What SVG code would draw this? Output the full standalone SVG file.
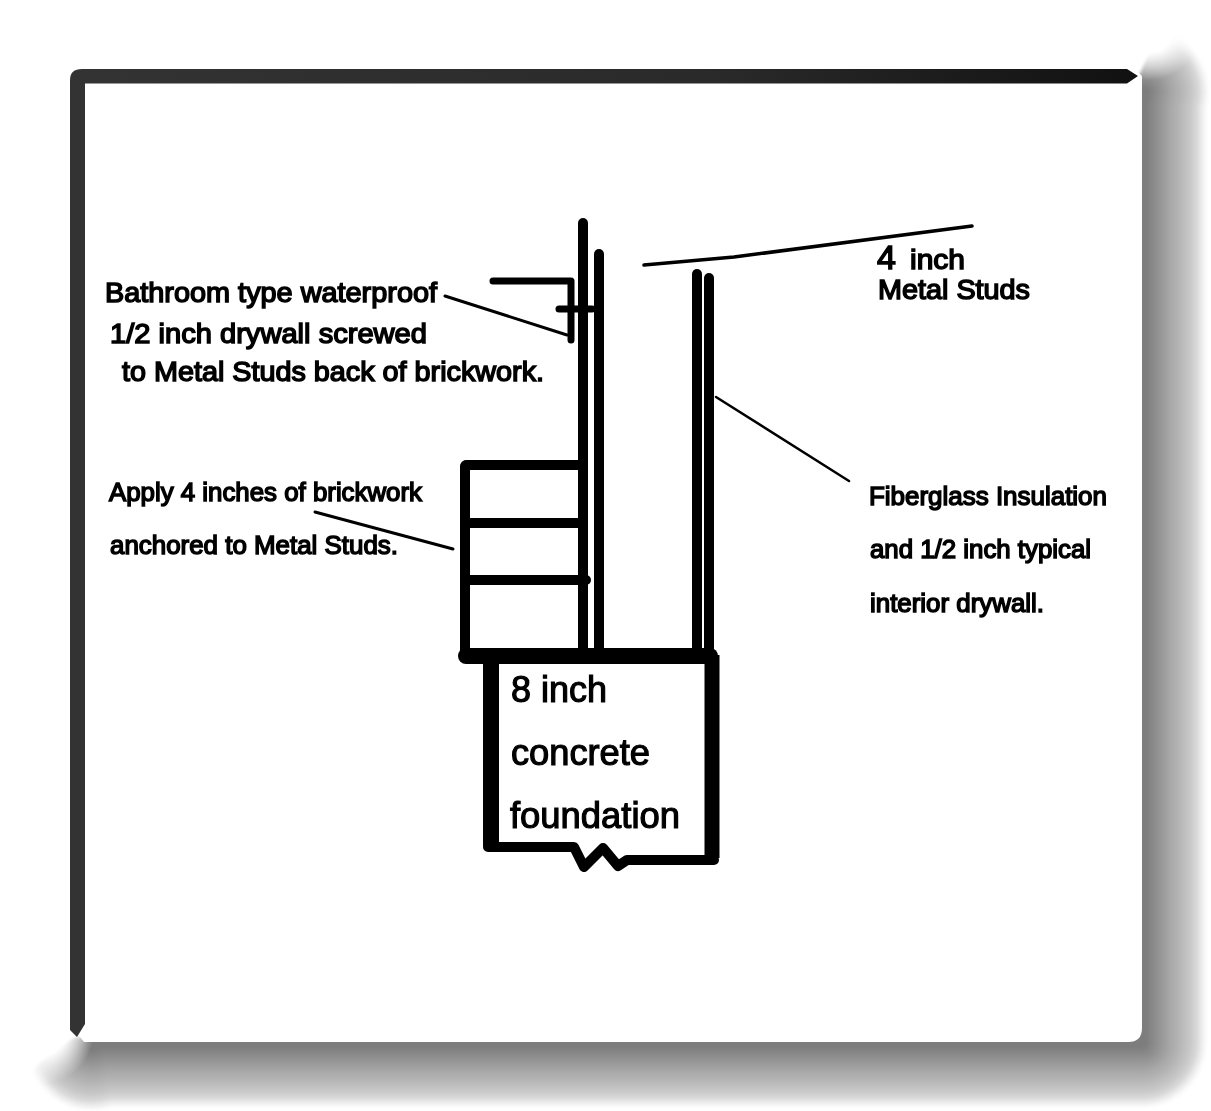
<svg xmlns="http://www.w3.org/2000/svg" width="1211" height="1111" viewBox="0 0 1211 1111">
<defs>
<filter id="blur" filterUnits="userSpaceOnUse" x="0" y="0" width="1211" height="1111"><feGaussianBlur stdDeviation="1.500"/></filter>
<filter id="soft" x="-5%" y="-5%" width="110%" height="110%"><feGaussianBlur stdDeviation="0.6"/></filter>
<clipPath id="sc"><path d="M1139 76L1150 52Q1160 30 1182 14H1211V1111H0V1095L25 1078Q45 1055 74 1038L1139 1000Z"/></clipPath>
<path id="sp" d="M92 1046L104 1043H1142V104L1144 92" fill="none" stroke-linecap="round" stroke-linejoin="round"/>
<linearGradient id="fv" x1="0" x2="1" y1="0" y2="0"><stop offset="0" stop-color="#333"/><stop offset=".6" stop-color="#2a2a2a"/><stop offset="1" stop-color="#111"/></linearGradient>
<radialGradient id="fade"><stop offset=".45" stop-color="#fff"/><stop offset="1" stop-color="#fff" stop-opacity="0"/></radialGradient>
</defs>
<style>
.ln{fill:none;stroke:#000;stroke-linecap:round;stroke-linejoin:round}
.t{font-family:"Liberation Sans",Arial,sans-serif;fill:#000;stroke:#000;stroke-width:1.5}
.a{font-size:28px}
.b{font-size:26px}
.c{font-size:37px;stroke-width:1.2}
</style>
<rect width="1211" height="1111" fill="#fff"/>
<g id="frame">
<g filter="url(#blur)"><g clip-path="url(#sc)">
<use href="#sp" stroke="#fdfdfd" stroke-width="132"/>
<use href="#sp" stroke="#f3f3f3" stroke-width="126"/>
<use href="#sp" stroke="#e8e8e8" stroke-width="120"/>
<use href="#sp" stroke="#dcdcdc" stroke-width="114"/>
<use href="#sp" stroke="#d2d2d2" stroke-width="108"/>
<use href="#sp" stroke="#c8c8c8" stroke-width="100"/>
<use href="#sp" stroke="#c1c1c1" stroke-width="92"/>
<use href="#sp" stroke="#bababa" stroke-width="84"/>
<use href="#sp" stroke="#b3b3b3" stroke-width="76"/>
<use href="#sp" stroke="#adadad" stroke-width="68"/>
<use href="#sp" stroke="#a7a7a7" stroke-width="60"/>
<use href="#sp" stroke="#a0a0a0" stroke-width="52"/>
<use href="#sp" stroke="#999999" stroke-width="44"/>
<use href="#sp" stroke="#929292" stroke-width="36"/>
<use href="#sp" stroke="#8b8b8b" stroke-width="28"/>
<use href="#sp" stroke="#848484" stroke-width="20"/>
<use href="#sp" stroke="#7d7d7d" stroke-width="12"/>
</g></g>
<circle cx="42" cy="1032" r="52" fill="url(#fade)"/>
<circle cx="1150" cy="30" r="50" fill="url(#fade)"/>
<path d="M70 1024L84 1042H1128Q1142 1042 1142 1028V76L1134 69H70Z" fill="#fff"/>
<path d="M70 1026V80Q70 69 82 69H1127L1138 76L1127 83.500H85V1024L77 1037L70 1030Z" fill="url(#fv)"/>
</g>
<g id="wall" filter="url(#soft)">
<path class="ln" stroke-width="10" d="M583 223V650"/>
<path class="ln" stroke-width="10" d="M599 254V650"/>
<path class="ln" stroke-width="10" d="M697 274V650"/>
<path class="ln" stroke-width="10" d="M709 278V650"/>
<path class="ln" stroke-width="7" d="M493 281H571V340"/>
<path class="ln" stroke-width="7" d="M559 309H592"/>
</g>
<g id="brickwork" filter="url(#soft)">
<path class="ln" stroke-width="10" d="M465 466V652"/>
<path class="ln" stroke-width="10" d="M466 465H580"/>
<path class="ln" stroke-width="10" d="M468 523H582"/>
<path class="ln" stroke-width="10" d="M468 580H586"/>
</g>
<g id="foundation" filter="url(#soft)">
<path class="ln" stroke-width="16" d="M466 656H710"/>
<path d="M491 655V846" fill="none" stroke="#000" stroke-width="16"/>
<path d="M712 655V858" fill="none" stroke="#000" stroke-width="15"/>
<path class="ln" stroke-width="10" d="M488 847H574L584 867L603 848L618 866L627 860H714"/>
</g>
<g id="connectors" filter="url(#soft)">
<path class="ln" stroke-width="3" d="M445 296L567 335"/>
<path class="ln" stroke-width="3.500" d="M644 265L734 257L972 226"/>
<path class="ln" stroke-width="2.500" d="M716 397L849 481"/>
<path class="ln" stroke-width="3" d="M315 512L453 549"/>
</g>
<g id="label-drywall" filter="url(#soft)">
<text class="t a" x="105" y="302" textLength="332" lengthAdjust="spacingAndGlyphs">Bathroom type waterproof</text>
<text class="t a" x="110" y="343" textLength="317" lengthAdjust="spacingAndGlyphs">1/2 inch drywall screwed</text>
<text class="t a" x="122" y="381" textLength="422" lengthAdjust="spacingAndGlyphs">to Metal Studs back of brickwork.</text>
</g>
<g id="label-brick" filter="url(#soft)">
<text class="t b" x="109" y="501" textLength="313" lengthAdjust="spacingAndGlyphs">Apply 4 inches of brickwork</text>
<text class="t b" x="110" y="554" textLength="288" lengthAdjust="spacingAndGlyphs">anchored to Metal Studs.</text>
</g>
<g id="label-insulation" filter="url(#soft)">
<text class="t b" x="869" y="505" textLength="238" lengthAdjust="spacingAndGlyphs">Fiberglass Insulation</text>
<text class="t b" x="870" y="558" textLength="221" lengthAdjust="spacingAndGlyphs">and 1/2 inch typical</text>
<text class="t b" x="870" y="612" textLength="174" lengthAdjust="spacingAndGlyphs">interior drywall.</text>
</g>
<g id="label-studs" filter="url(#soft)">
<text class="t a" y="269"><tspan x="877" font-size="34">4</tspan> <tspan x="910" textLength="55" lengthAdjust="spacingAndGlyphs">inch</tspan></text>
<text class="t a" x="878" y="299" textLength="152" lengthAdjust="spacingAndGlyphs">Metal Studs</text>
</g>
<g id="label-foundation" filter="url(#soft)">
<text class="t c" x="511" y="702" textLength="96" lengthAdjust="spacingAndGlyphs">8 inch</text>
<text class="t c" x="511" y="765" textLength="139" lengthAdjust="spacingAndGlyphs">concrete</text>
<text class="t c" x="510" y="828" textLength="170" lengthAdjust="spacingAndGlyphs">foundation</text>
</g>
</svg>
